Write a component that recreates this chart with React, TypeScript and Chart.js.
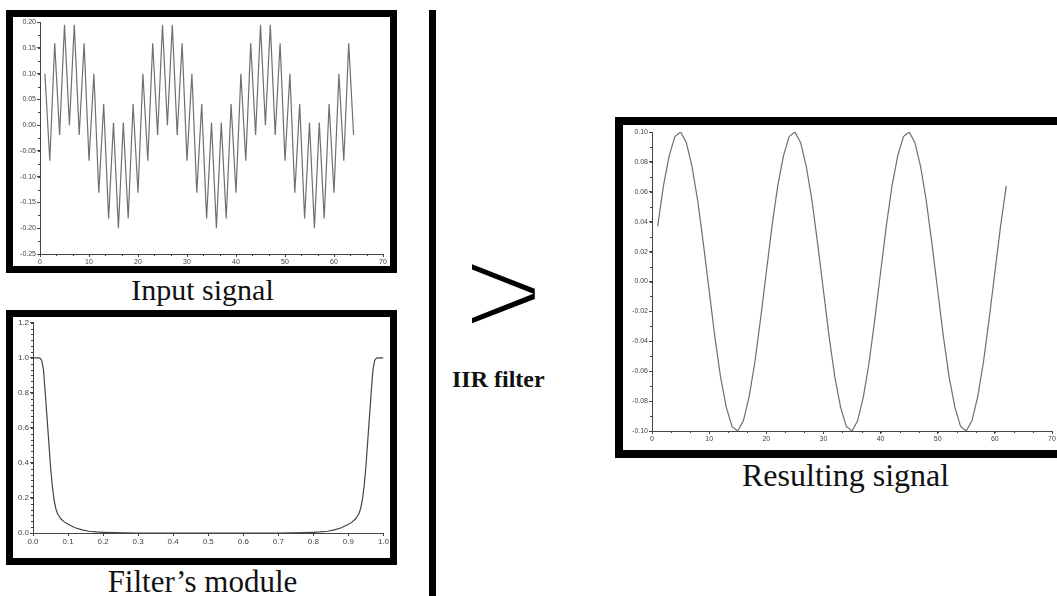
import React, { useEffect, useRef } from "react";
import { Chart, registerables } from "chart.js";

Chart.register(...registerables);

// ---------- data ----------
// Input signal, samples n = 1..64
const inputSignal = [
  0.1, -0.069, 0.159, -0.019, 0.195, 0.0, 0.195, -0.019, 0.159, -0.069,
  0.1, -0.131, 0.041, -0.181, 0.005, -0.2, 0.005, -0.181, 0.041, -0.131,
  0.1, -0.069, 0.159, -0.019, 0.195, 0.0, 0.195, -0.019, 0.159, -0.069,
  0.1, -0.131, 0.041, -0.181, 0.005, -0.2, 0.005, -0.181, 0.041, -0.131,
  0.1, -0.069, 0.159, -0.019, 0.195, 0.0, 0.195, -0.019, 0.159, -0.069,
  0.1, -0.131, 0.041, -0.181, 0.005, -0.2, 0.005, -0.181, 0.041, -0.131,
  0.1, -0.069, 0.159, -0.019,
];

// Filter's module, normalised frequency vs |H|
const filterFreq = [
  0, 0.01, 0.02, 0.025, 0.03, 0.035, 0.04, 0.045, 0.05, 0.055, 0.06, 0.065,
  0.07, 0.08, 0.09, 0.1, 0.11, 0.12, 0.14, 0.16, 0.18, 0.2, 0.23, 0.26, 0.3,
  0.4, 0.5, 0.6, 0.7, 0.74, 0.77, 0.8, 0.82, 0.84, 0.86, 0.88, 0.89, 0.9,
  0.91, 0.92, 0.93, 0.935, 0.94, 0.945, 0.95, 0.955, 0.96, 0.965, 0.97,
  0.975, 0.98, 0.99, 1.0,
];
const filterMag = [
  1.0, 1.0, 0.998, 0.985, 0.93, 0.8, 0.66, 0.52, 0.38, 0.27, 0.19, 0.14,
  0.11, 0.08, 0.062, 0.05, 0.04, 0.03, 0.018, 0.01, 0.006, 0.004, 0.002,
  0.001, 0, 0, 0, 0, 0, 0.001, 0.002, 0.004, 0.006, 0.01, 0.018, 0.03, 0.04,
  0.05, 0.062, 0.08, 0.11, 0.14, 0.19, 0.27, 0.38, 0.52, 0.66, 0.8, 0.93,
  0.985, 0.998, 1.0, 1.0,
];

// Resulting signal, samples n = 1..62
const resultSignal = [
  0.037, 0.064, 0.084, 0.097, 0.1, 0.093, 0.077, 0.054, 0.025, -0.006,
  -0.037, -0.064, -0.084, -0.097, -0.1, -0.093, -0.077, -0.054, -0.025, 0.006,
  0.037, 0.064, 0.084, 0.097, 0.1, 0.093, 0.077, 0.054, 0.025, -0.006,
  -0.037, -0.064, -0.084, -0.097, -0.1, -0.093, -0.077, -0.054, -0.025, 0.006,
  0.037, 0.064, 0.084, 0.097, 0.1, 0.093, 0.077, 0.054, 0.025, -0.006,
  -0.037, -0.064, -0.084, -0.097, -0.1, -0.093, -0.077, -0.054, -0.025, 0.006,
  0.037, 0.064,
];

// axis ranges / tick steps
const inputXRange = [0, 70, 10];
const inputYRange = [-0.25, 0.2, 0.05];
const filterXRange = [0, 1, 0.1];
const filterYRange = [0, 1.2, 0.2];
const resultXRange = [0, 70, 10];
const resultYRange = [-0.1, 0.1, 0.02];

const captions = {
  input: "Input signal",
  filter: "Filter\u2019s module",
  result: "Resulting signal",
  iir: "IIR filter",
  arrow: ">",
};

// ---------- helpers ----------
const minorTicks = {
  id: "minorTicks",
  afterDraw(chart: any, _args: any, opts: any) {
    const ctx = chart.ctx;
    ctx.save();
    ctx.strokeStyle = opts.color || "#444";
    ctx.lineWidth = 1;
    for (const axis of ["x", "y"]) {
      const step = opts[axis];
      if (!step) continue;
      const s = chart.scales[axis];
      const n = Math.round((s.max - s.min) / step);
      for (let i = 0; i <= n; i++) {
        const v = s.min + i * step;
        const p = Math.round(s.getPixelForValue(v)) + 0.5;
        ctx.beginPath();
        if (axis === "x") {
          ctx.moveTo(p, s.top);
          ctx.lineTo(p, s.top + (opts.len || 2));
        } else {
          ctx.moveTo(s.right, p);
          ctx.lineTo(s.right - (opts.len || 2), p);
        }
        ctx.stroke();
      }
    }
    ctx.restore();
  },
};

type Cfg = {
  xs: number[];
  ys: number[];
  xr: number[];
  yr: number[];
  xDec: number;
  yDec: number;
  yW: number;
  xH: number;
  padTop: number;
  padRight: number;
  minorX?: number;
  minorY?: number;
  color: string;
  lw: number;
  font: number;
};

function fmt(v: number, d: number) {
  if (Math.abs(v) < 1e-9) v = 0;
  return v.toFixed(d);
}

function makeConfig(c: Cfg): any {
  const axisCommon = (range: number[], dec: number) => ({
    type: "linear",
    min: range[0],
    max: range[1],
    grid: {
      display: true,
      drawOnChartArea: false,
      drawTicks: true,
      tickLength: 3,
      color: "#444",
    },
    border: { display: true, color: "#444", width: 1 },
    ticks: {
      stepSize: range[2],
      autoSkip: false,
      maxRotation: 0,
      padding: 1,
      color: "#444",
      font: { family: "'Liberation Sans', Arial, sans-serif", size: c.font },
      callback: (v: any) => fmt(Number(v), dec),
    },
  });
  return {
    type: "line",
    data: {
      datasets: [
        {
          data: c.xs.map((x, i) => ({ x, y: c.ys[i] })),
          borderColor: c.color,
          borderWidth: c.lw,
          pointRadius: 0,
          tension: 0,
          fill: false,
        },
      ],
    },
    options: {
      animation: false,
      responsive: true,
      maintainAspectRatio: false,
      layout: { padding: { top: c.padTop, right: c.padRight, left: 0, bottom: 0 } },
      plugins: {
        legend: { display: false },
        tooltip: { enabled: false },
        minorTicks: { x: c.minorX, y: c.minorY, len: 2, color: "#444" },
      },
      scales: {
        x: {
          ...axisCommon(c.xr, c.xDec),
          afterFit: (s: any) => {
            s.height = c.xH;
          },
        },
        y: {
          ...axisCommon(c.yr, c.yDec),
          afterFit: (s: any) => {
            s.width = c.yW;
          },
        },
      },
    },
    plugins: [minorTicks],
  };
}

function Plot({ cfg }: { cfg: Cfg }) {
  const ref = useRef<HTMLCanvasElement>(null);
  useEffect(() => {
    const chart = new Chart(ref.current as HTMLCanvasElement, makeConfig(cfg));
    return () => chart.destroy();
  }, []);
  return (
    <div style={{ position: "relative", width: "100%", height: "100%" }}>
      <canvas ref={ref} />
    </div>
  );
}

function Frame(props: {
  left: number;
  top: number;
  width: number;
  height: number;
  border: number;
  cfg: Cfg;
}) {
  return (
    <div
      style={{
        position: "absolute",
        left: props.left,
        top: props.top,
        width: props.width,
        height: props.height,
        border: `${props.border}px solid #000`,
        boxSizing: "border-box",
        background: "#fff",
      }}
    >
      <Plot cfg={props.cfg} />
    </div>
  );
}

const serif = "'Liberation Serif', 'Times New Roman', serif";

function Caption(props: {
  text: string;
  left: number;
  top: number;
  width?: number;
  size: number;
  bold?: boolean;
  center?: boolean;
}) {
  return (
    <div
      style={{
        position: "absolute",
        left: props.left,
        top: props.top,
        width: props.width,
        textAlign: props.center ? "center" : "left",
        fontFamily: serif,
        fontSize: props.size,
        fontWeight: props.bold ? "bold" : "normal",
        lineHeight: `${props.size}px`,
        color: "#111",
        whiteSpace: "nowrap",
      }}
    >
      {props.text}
    </div>
  );
}

export default function App() {
  const nInput = inputSignal.map((_, i) => i + 1);
  const nResult = resultSignal.map((_, i) => i + 1);
  return (
    <div
      style={{
        position: "fixed",
        left: 0,
        top: 0,
        width: 1057,
        height: 596,
        overflow: "hidden",
        background: "#fff",
      }}
    >
      <Frame
        left={6}
        top={10}
        width={391}
        height={263}
        border={7}
        cfg={{
          xs: nInput,
          ys: inputSignal,
          xr: inputXRange,
          yr: inputYRange,
          xDec: 0,
          yDec: 2,
          yW: 27,
          xH: 12,
          padTop: 4,
          padRight: 7,
          minorX: 10 / 3,
          minorY: 0.025,
          color: "#6f6f6f",
          lw: 1.2,
          font: 7,
        }}
      />
      <Caption text={captions.input} left={0} width={405} top={275} size={30} center />

      <Frame
        left={6}
        top={310}
        width={391}
        height={255}
        border={7}
        cfg={{
          xs: filterFreq,
          ys: filterMag,
          xr: filterXRange,
          yr: filterYRange,
          xDec: 1,
          yDec: 1,
          yW: 20,
          xH: 25,
          padTop: 4,
          padRight: 6,
          minorY: 0.2 / 6,
          color: "#444",
          lw: 1.2,
          font: 8,
        }}
      />
      <Caption text={captions.filter} left={0} width={405} top={566} size={31} center />

      <div
        style={{
          position: "absolute",
          left: 429,
          top: 10,
          width: 7,
          height: 600,
          background: "#000",
        }}
      />

      <div
        style={{
          position: "absolute",
          left: 463,
          top: 228,
          fontFamily: "'Liberation Sans', Arial, sans-serif",
          fontSize: 128,
          lineHeight: "128px",
          color: "#000",
          WebkitTextStroke: "4px #fff",
          paintOrder: "normal",
          transform: "scaleX(1.08)",
          transformOrigin: "left top",
          whiteSpace: "nowrap",
        }}
      >
        {captions.arrow}
      </div>

      <Caption text={captions.iir} left={452} top={367} size={24} bold />

      <Frame
        left={615}
        top={117}
        width={450}
        height={341}
        border={8}
        cfg={{
          xs: nResult,
          ys: resultSignal,
          xr: resultXRange,
          yr: resultYRange,
          xDec: 0,
          yDec: 2,
          yW: 29,
          xH: 19,
          padTop: 7,
          padRight: 5,
          minorX: 10 / 3,
          minorY: 0.01,
          color: "#6f6f6f",
          lw: 1.2,
          font: 7,
        }}
      />
      <Caption text={captions.result} left={742} width={200} top={459} size={32} center />
    </div>
  );
}
